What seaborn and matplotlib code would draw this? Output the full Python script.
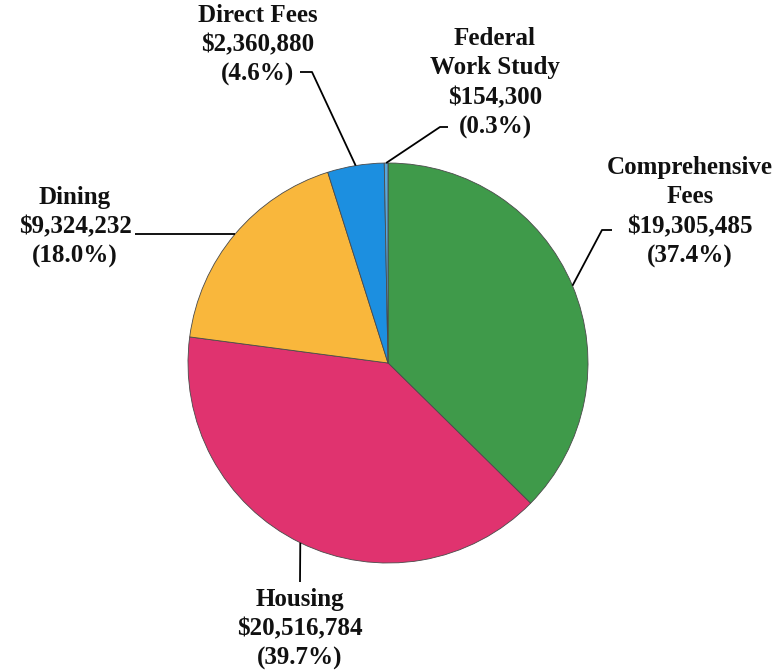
import numpy as np
import matplotlib
matplotlib.use("Agg")
import matplotlib.pyplot as plt
import seaborn as sns

#--------------------chart data---------------------------------------------------------
categories = ["Comprehensive\nFees", "Housing", "Dining", "Direct Fees", "Federal\nWork Study"]
amounts = [19305485, 20516784, 9324232, 2360880, 154300]
percents = [37.4, 39.7, 18.0, 4.6, 0.3]
colors = ["#3f9a4a", "#e0336f", "#f9b73c", "#1c8fe0", "#5aa6d8"]

# label centre (data units) and leader geometry: elbow point and end of horizontal stub
label_pos = [(1.51, 0.755), (-0.44, -1.33), (-1.565, 0.68), (-0.65, 1.59), (0.535, 1.4)]
elbows = [(1.07, 0.665), (-0.44, -1.095), None, (-0.38, 1.455), (0.26, 1.18)]
stub_end = [(1.12, 0.665), None, (-1.265, None), (-0.44, 1.455), (0.30, 1.18)]

#---------------------------------------------------------------------------------------
sns.set_style("white")
plt.rcParams["font.family"] = ["Liberation Serif", "DejaVu Serif"]

fig = plt.figure(figsize=(7.81, 6.70), dpi=100)
ax = fig.add_axes([0, 0, 1, 1])

wedges, _ = ax.pie(amounts, colors=colors, startangle=90, counterclock=False,
                   radius=1.0, wedgeprops=dict(edgecolor="#4a4a4a", linewidth=0.6))

for i, w in enumerate(wedges):
    ang = np.deg2rad((w.theta1 + w.theta2) / 2)
    ex, ey = np.cos(ang), np.sin(ang)
    xs, ys = [ex], [ey]
    if elbows[i] is not None:
        xs.append(elbows[i][0]); ys.append(elbows[i][1])
    if stub_end[i] is not None:
        sx, sy = stub_end[i]
        xs.append(sx); ys.append(ys[-1] if sy is None else sy)
    ax.plot(xs, ys, color="black", lw=1.3, solid_capstyle="butt")

    txt = f"{categories[i]}\n${amounts[i]:,}\n({percents[i]:.1f}%)"
    ax.text(label_pos[i][0], label_pos[i][1], txt, ha="center", va="center",
            fontsize=18, fontweight="bold", linespacing=1.37, color="#111111")

ax.set_xlim(-1.94, 1.965)
ax.set_ylim(-1.535, 1.815)
ax.set_aspect("equal")
ax.axis("off")

fig.savefig("out.png", dpi=100, facecolor="white")
